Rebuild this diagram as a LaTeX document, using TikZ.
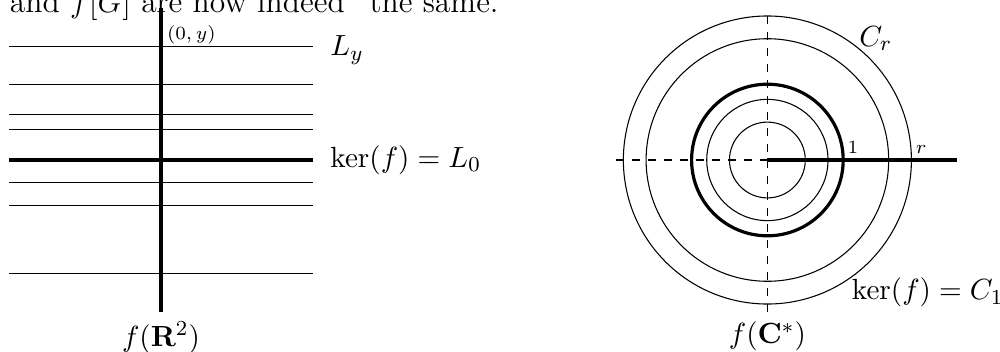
\documentclass[tikz,border=0pt,11pt]{standalone}
\usepackage{amsmath,amssymb}
\usetikzlibrary{positioning}

\begin{document}
\begin{tikzpicture}[
  level/.style={line width=0.4pt},
  kernel/.style={line width=1.2pt},
  axis/.style={dashed, line width=0.4pt},
  lbl/.style={font=\fontsize{7}{8}\selectfont, inner sep=1.5pt},
  >=latex
]
\useasboundingbox (-2.124,-2.52) rectangle (11.069,2.111);
\clip (-2.124,-2.52) rectangle (11.069,2.111);

% running text of the page, cut off at the top
\node[anchor=base west, inner sep=0pt, font=\fontsize{11.85}{14}\selectfont] (prose) at (-2,1.94) {and $f[G]$ are now indeed ``the same.''};

% the plane, sliced into the lines L_y
\foreach \y in {1.5,1,0.6,0.4,-0.3,-0.6,-1.5}
  \draw[level] (-2,\y) -- (2,\y);
\draw[kernel] (-2,0) -- (2,0);
\draw[kernel] (0,-2) -- (0,2);

\node[lbl, above right] (pt) at (0.02,1.47) {$(0,y)$};
\node[right] (Ly) at (2.1,1.45) {$L_y$};
\node[right] (kerL) at (2.1,0) {$\ker(f) = L_0$};
\node[below] (fR) at (0,-2) {$f(\mathbf{R}^2)$};

% the punctured plane, sliced into the circles C_r
\begin{scope}[shift={(8,0)}]
  \draw[axis] (-2,0) -- (0,0);
  \draw[axis] (0,-2) -- (0,2);
  \foreach \r in {0.5,0.8,1.6,1.9}
    \draw[level] (0,0) circle (\r);
  \draw[kernel] (0,0) circle (1);
  \draw[kernel] (0,0) -- (2.5,0);

  \node[lbl, above right] (one) at (1,0.02) {$1$};
  \node[lbl, above right] (rad) at (1.9,0.02) {$r$};
  \node (Cr) at (1.43,1.6) {$C_r$};
  \node[right] (kerC) at (0.98,-1.75) {$\ker(f) = C_1$};
  \node[below] (fC) at (0,-2) {$f(\mathbf{C}^*)$};
\end{scope}
\end{tikzpicture}
\end{document}
